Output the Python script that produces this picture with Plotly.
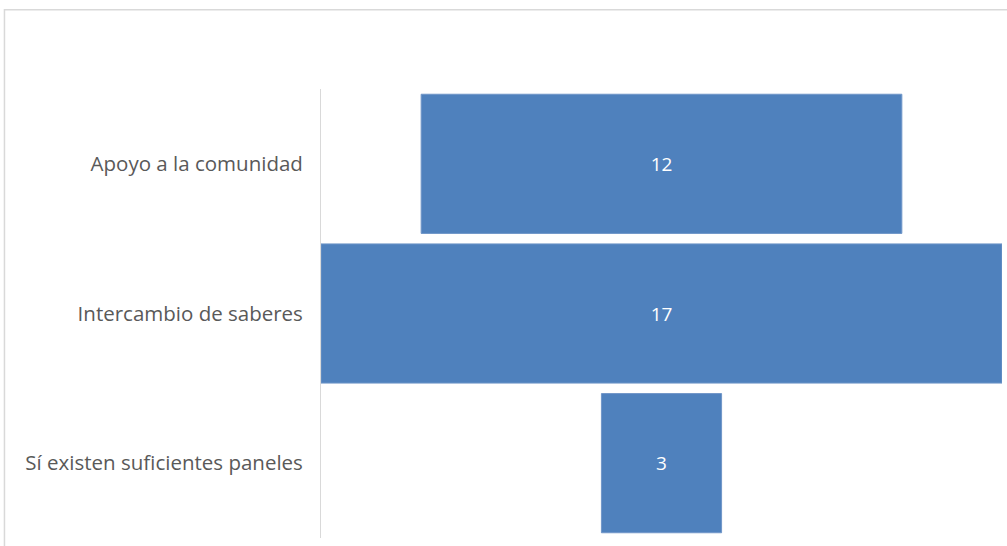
import plotly.graph_objects as go

categories = ["Apoyo a la comunidad", "Intercambio de saberes", "Sí existen suficientes paneles"]
values = [12, 17, 3]

fig = go.Figure(go.Funnel(
    y=categories,
    x=values,
    textinfo="value",
    textposition="inside",
    insidetextfont=dict(color="white", size=19, family="Open Sans"),
    marker=dict(color="#4F81BD", line=dict(color="#7096c8", width=1)),
    connector=dict(visible=False),
))

fig.update_layout(
    width=1007, height=546,
    margin=dict(l=321, r=5, t=89, b=8),
    paper_bgcolor="white", plot_bgcolor="white",
    funnelgap=0.07,
    showlegend=False,
    font=dict(family="Open Sans", size=20.5, color="#595959"),
    xaxis=dict(range=[-8.5, 8.5], visible=False, fixedrange=True),
    yaxis=dict(showline=True, linecolor="#d9d9d9", linewidth=1,
               ticks="", ticklabelstandoff=13, showgrid=False, fixedrange=True),
    shapes=[dict(type="rect", xref="paper", yref="paper",
                 x0=-0.4648, x1=1.02, y0=-0.03, y1=1.1767,
                 line=dict(color="#d9d9d9", width=1.5), layer="below")],
)

fig.write_html("out.html",
               config={"displayModeBar": False},
               post_script="document.body.style.margin='0';document.body.style.padding='0';")
